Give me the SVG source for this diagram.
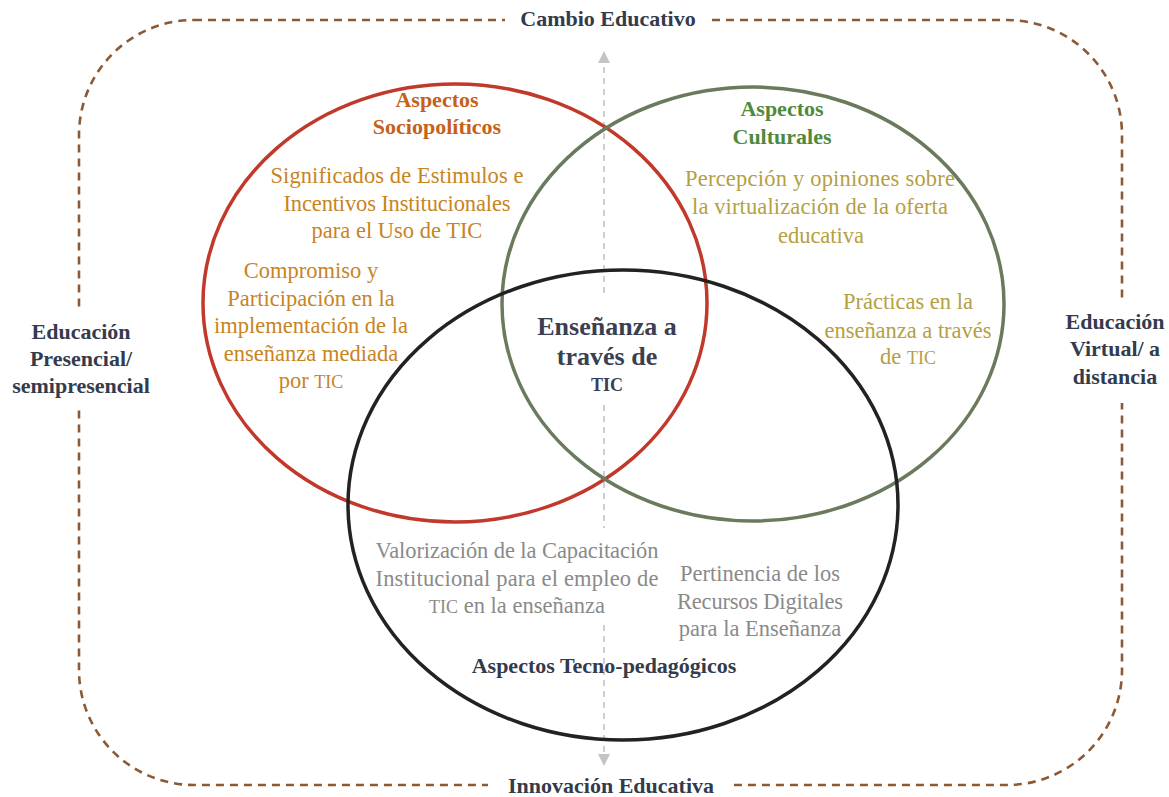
<svg xmlns="http://www.w3.org/2000/svg" width="1169" height="797" viewBox="0 0 1169 797">
<style>
text{font-family:"Liberation Serif","Times New Roman",serif;text-anchor:middle}
.lbl{font-size:22px;font-weight:bold;fill:#333b4c}
.soc-t{font-size:22px;font-weight:bold;fill:#c5611a}
.soc{font-size:22.5px;fill:#c8841f}
.cul-t{font-size:22px;font-weight:bold;fill:#4f8a3c}
.cul{font-size:22.5px;fill:#b5a042}
.tec{font-size:22.5px;fill:#8a8a8a}
.ctr{font-size:26px;font-weight:bold;fill:#3a4050}
.sm{font-size:18px}
.mask{fill:#fff}
.arr{stroke:#c4c4c4;stroke-width:1.6;stroke-dasharray:6 5;fill:none}
</style>
<defs>
<marker id="ah" viewBox="0 0 10 10" refX="5" refY="5" markerWidth="12" markerHeight="12" markerUnits="userSpaceOnUse" orient="auto-start-reverse">
<path d="M0,0 L10,5 L0,10 z" fill="#c4c4c4"/>
</marker>
</defs>
<rect width="1169" height="797" fill="#fff"/>
<g id="frame">
<rect x="79" y="20" width="1043" height="765" rx="115" ry="115" fill="none" stroke="#8b5a35" stroke-width="2.6" stroke-dasharray="8 6"/>
<rect class="mask" x="505" y="5" width="205" height="30"/>
<rect class="mask" x="488" y="772" width="245" height="25"/>
<rect class="mask" x="60" y="308" width="40" height="100"/>
<rect class="mask" x="1100" y="300" width="40" height="103"/>
</g>
<g id="connectors">
<path class="arr" d="M604,293 L604,57" marker-end="url(#ah)"/>
<path class="arr" d="M604,405 L604,528"/>
<path class="arr" d="M604,625 L604,760" marker-end="url(#ah)"/>
</g>
<g id="circle-sociopoliticos">
<ellipse cx="455" cy="303" rx="252" ry="219" fill="none" stroke="#c0392b" stroke-width="3.5"/>
</g>
<g id="circle-culturales">
<ellipse cx="753" cy="304" rx="251" ry="217" fill="none" stroke="#6a7a5c" stroke-width="3.5"/>
</g>
<g id="circle-tecno">
<ellipse cx="623" cy="505" rx="275" ry="235" fill="none" stroke="#222" stroke-width="3.5"/>
</g>
<g id="node-sociopoliticos">
<text class="soc-t" x="437" y="107">Aspectos</text>
<text class="soc-t" x="437" y="134">Sociopolíticos</text>
<text class="soc" x="397" y="183" textLength="253" lengthAdjust="spacing">Significados  de Estimulos  e</text>
<text class="soc" x="397" y="211" textLength="227" lengthAdjust="spacing">Incentivos  Institucionales</text>
<text class="soc" x="397" y="238">para el Uso de TIC</text>
<text class="soc" x="311" y="278">Compromiso  y</text>
<text class="soc" x="311" y="306">Participación  en la</text>
<text class="soc" x="311" y="333" textLength="194" lengthAdjust="spacing">implementación  de la</text>
<text class="soc" x="311" y="361">enseñanza  mediada</text>
<text class="soc" x="311" y="388">por <tspan class="sm">TIC</tspan></text>
</g>
<g id="node-culturales">
<text class="cul-t" x="782" y="116">Aspectos</text>
<text class="cul-t" x="782" y="144">Culturales</text>
<text class="cul" x="820" y="186" textLength="270" lengthAdjust="spacing">Percepción y opiniones  sobre</text>
<text class="cul" x="820" y="214" textLength="256" lengthAdjust="spacing">la virtualización  de la oferta</text>
<text class="cul" x="821" y="243">educativa</text>
<text class="cul" x="908" y="309">Prácticas  en la</text>
<text class="cul" x="908" y="338" textLength="167" lengthAdjust="spacing">enseñanza  a través</text>
<text class="cul" x="908" y="364">de <tspan class="sm">TIC</tspan></text>
</g>
<g id="node-center">
<text class="ctr" x="607" y="335">Enseñanza a</text>
<text class="ctr" x="607" y="365">través de</text>
<text class="ctr" x="607" y="391" style="font-size:18px">TIC</text>
</g>
<g id="node-tecno">
<text class="tec" x="517" y="558" textLength="283" lengthAdjust="spacing">Valorización  de la Capacitación</text>
<text class="tec" x="517" y="586" textLength="283" lengthAdjust="spacing">Institucional  para el empleo  de</text>
<text class="tec" x="517" y="613"><tspan class="sm">TIC</tspan> en la enseñanza</text>
<text class="tec" x="760" y="581">Pertinencia  de los</text>
<text class="tec" x="760" y="609" textLength="166" lengthAdjust="spacing">Recursos  Digitales</text>
<text class="tec" x="760" y="636">para la Enseñanza</text>
<text class="lbl" x="604" y="673">Aspectos Tecno-pedagógicos</text>
</g>
<g id="labels">
<text class="lbl" x="608" y="26">Cambio  Educativo</text>
<text class="lbl" x="611" y="793">Innovación  Educativa</text>
<text class="lbl" x="81" y="339">Educación</text>
<text class="lbl" x="81" y="366">Presencial/</text>
<text class="lbl" x="81" y="393">semipresencial</text>
<text class="lbl" x="1115" y="329">Educación</text>
<text class="lbl" x="1115" y="356">Virtual/  a</text>
<text class="lbl" x="1115" y="384">distancia</text>
</g>
</svg>
